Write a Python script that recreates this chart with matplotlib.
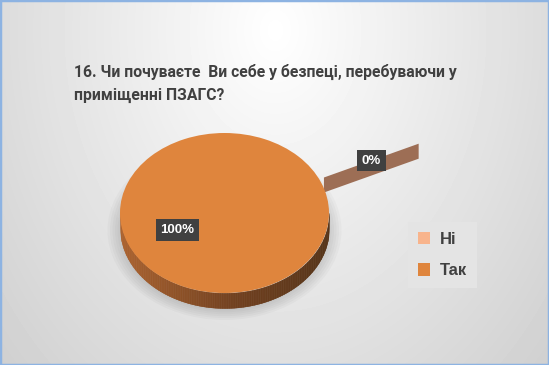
import matplotlib.pyplot as plt
import numpy as np
from matplotlib.patches import Rectangle, Ellipse

labels = ['Ні', 'Так']
values = [0, 100]
slice_colors = ['#F8B48C', '#DF853D']
title_lines = ['16. Чи почуваєте  Ви себе у безпеці, перебуваючи у',
               'приміщенні ПЗАГС?']

W, H = 549, 365
fig = plt.figure(figsize=(W / 100, H / 100), dpi=100)

# soft radial background like the office chart area
bg = fig.add_axes([0, 0, 1, 1])
yy, xx = np.mgrid[0:H, 0:W]
dist = np.sqrt(((xx - 275) / 300.0) ** 2 + ((yy - 30) / 400.0) ** 2)
shade = 1 - 0.15 * dist
bg.imshow(shade, cmap='gray', vmin=0, vmax=1, aspect='auto', interpolation='bilinear')
bg.axis('off')

# pie axes: squash the circle into an ellipse through the limits
cx, cy, rx, ry = 224.5, 213, 104.5, 80
depth = 15 / ry
ax = fig.add_axes([0, 0, 1, 1])
ax.patch.set_visible(False)

# faint shadow under the disc
for s in np.linspace(1.0, 1.12, 6):
    ax.add_patch(Ellipse((0, -depth - 0.03), 2 * s, 2 * s, facecolor='black',
                         alpha=0.025, linewidth=0, zorder=0.5))

# side of the disc, shaded from left to right
side_left = np.array([172, 98, 46]) / 255
side_mid = np.array([112, 62, 28]) / 255
side_right = np.array([84, 50, 22]) / 255
xs = np.linspace(-1, 1, 301)
for i in range(len(xs) - 1):
    x0, x1 = xs[i], xs[i + 1]
    t = (x0 + x1) / 2
    if t < 0.1:
        k = (t + 1) / 1.1
        col = side_left * (1 - k) + side_mid * k
    else:
        k = (t - 0.1) / 0.9
        col = side_mid * (1 - k) + side_right * k
    y0 = -np.sqrt(max(0, 1 - x0 ** 2))
    y1 = -np.sqrt(max(0, 1 - x1 ** 2))
    ax.fill_between([x0, x1], [y0, y1], [y0 - depth, y1 - depth],
                    color=col, linewidth=0.3, edgecolor=col, zorder=1)

start = 25
explode = [1.05, 0]
wedges, texts, autotexts = ax.pie(
    values, colors=slice_colors, startangle=start, explode=explode,
    autopct=lambda p: f'{p:.0f}%', pctdistance=0.5,
    wedgeprops=dict(linewidth=0, zorder=2), radius=1)
# float rounding can turn the full wedge into a sliver; close it exactly
for w in wedges:
    if w.theta2 - w.theta1 > 359:
        w.set_theta2(w.theta1 + 360)

# the empty slice only shows its cut face, pushed out from the disc
th = np.radians(start)
u = np.array([np.cos(th), np.sin(th)])
p1 = explode[0] * u
p2 = (explode[0] + 1) * u
ax.fill([p1[0], p2[0], p2[0], p1[0]],
        [p1[1], p2[1], p2[1] - depth, p1[1] - depth],
        color='#9D6E55', linewidth=0, zorder=1)

for t in autotexts:
    t.set_color('white')
    t.set_fontsize(9.5)
    t.set_fontweight('bold')
    t.set_family('Liberation Sans')
    t.set_zorder(5)
    t.set_bbox(dict(facecolor='#404040', edgecolor='none', boxstyle='square,pad=0.35'))

ax.set_aspect('auto')
ax.set_xlim(-cx / rx, (W - cx) / rx)
ax.set_ylim(-(H - cy) / ry, cy / ry)
ax.axis('off')

leg = ax.legend(wedges, labels, loc='center',
                bbox_to_anchor=(442.5 / W, 1 - 255 / H), bbox_transform=fig.transFigure,
                frameon=True, facecolor='#E4E4E4', edgecolor='none', framealpha=1,
                fancybox=False, labelspacing=1.0, handlelength=0.75, handleheight=0.75,
                handletextpad=0.6, borderpad=0.6, borderaxespad=0,
                prop=dict(family='Liberation Sans', size=12, weight='bold'))
for txt in leg.get_texts():
    txt.set_color('#404040')

for i, line in enumerate(title_lines):
    fig.text(74 / W, 1 - (77 + 23 * i) / H, line, fontsize=11.3, fontweight='bold',
             family='Roboto', color='#404040', va='baseline')

fig.patches.append(Rectangle((0, 0), 1, 1, transform=fig.transFigure, fill=False,
                             edgecolor='#8DB3E2', linewidth=2.5))

fig.savefig('out.png', dpi=100)
